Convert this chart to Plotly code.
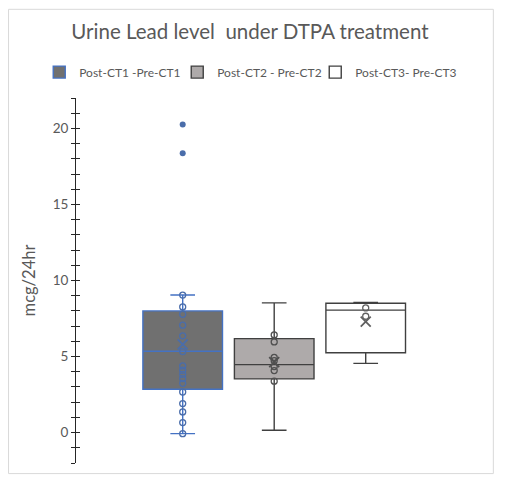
import plotly.graph_objects as go

groups = ["Post-CT1 -Pre-CT1", "Post-CT2 - Pre-CT2", "Post-CT3- Pre-CT3"]

# box statistics (mcg/24hr)
q1 = [2.85, 3.53, 5.25]
median = [5.35, 4.47, 8.05]
q3 = [8.0, 6.18, 8.5]
lower = [-0.07, 0.15, 4.55]
upper = [9.05, 8.53, 8.55]
means = [5.8, 4.64, 7.3]

points_ct1 = [9.04, 8.26, 7.78, 7.06, 6.36, 5.33, 4.38, 4.10, 3.83, 3.55,
              3.24, 2.67, 1.91, 1.36, 0.66, -0.07]
outliers_ct1 = [20.26, 18.37]
points_ct2 = [6.42, 5.96, 4.95, 4.73, 4.34, 4.08, 3.38]
points_ct3 = [8.2, 7.65]

fills = ["#707070", "#AEAAAA", "#FFFFFF"]
edges = ["#4472C4", "#404040", "#404040"]
dots = ["#4A6DAA", "#505050", "#606060"]
font = "Lato"
grey = "#595959"

fig = go.Figure()

for i, g in enumerate(groups):
    fig.add_trace(go.Box(
        x=[g], q1=[q1[i]], median=[median[i]], q3=[q3[i]],
        lowerfence=[lower[i]], upperfence=[upper[i]],
        name=g, width=0.87, whiskerwidth=0.31,
        fillcolor=fills[i], line=dict(color=edges[i], width=1.4),
        boxpoints=False, hoverinfo="skip",
        legendwidth=93 if i < 2 else 115,
    ))

inner = [points_ct1, points_ct2, points_ct3]
for i, g in enumerate(groups):
    fig.add_trace(go.Scatter(
        x=[g] * len(inner[i]), y=inner[i], mode="markers", showlegend=False,
        marker=dict(symbol="circle-open", size=6, color=dots[i],
                    line=dict(width=1.3)),
    ))
    fig.add_trace(go.Scatter(
        x=[g], y=[means[i]], mode="markers", showlegend=False,
        marker=dict(symbol="x-thin-open", size=10, color=dots[i],
                    line=dict(width=1.8, color=dots[i])),
    ))

fig.add_trace(go.Scatter(
    x=[groups[0]] * len(outliers_ct1), y=outliers_ct1, mode="markers",
    showlegend=False, marker=dict(symbol="circle", size=6, color=dots[0]),
))

# invisible trace so the inner tick axis is drawn (ticks cross the axis line)
fig.add_trace(go.Scatter(x=[groups[0]], y=[0], yaxis="y2", mode="markers",
                         marker=dict(opacity=0), showlegend=False,
                         hoverinfo="skip"))

fig.add_shape(type="rect", xref="paper", yref="paper",
              x0=-0.167, x1=1.033, y0=-0.029, y1=1.243,
              line=dict(color="#D9D9D9", width=1), layer="below")

# page body adds an 8px offset, so the figure is 8px smaller than the window
fig.update_layout(
    width=503, height=476,
    margin=dict(l=68, r=31, t=90, b=21, autoexpand=False),
    paper_bgcolor="white", plot_bgcolor="white",
    font=dict(family=font, color=grey, size=12),
    title=dict(text="Urine Lead level  under DTPA treatment",
               x=0.481, xanchor="center", y=0.95, yanchor="middle",
               font=dict(size=20.5, color=grey)),
    legend=dict(orientation="h", x=-0.091, xanchor="left", y=1.071,
                yanchor="middle", font=dict(size=12, color=grey),
                itemwidth=30, tracegroupgap=0, entrywidthmode="pixels"),
    xaxis=dict(range=[-1.166, 3.249], showline=False, showticklabels=False,
               ticks="", showgrid=False, zeroline=False),
    yaxis=dict(range=[-2, 22], tick0=0, dtick=5, ticks="outside", ticklen=4,
               tickcolor="#262626", showline=True, linecolor="#262626",
               linewidth=1, showgrid=False, zeroline=False,
               tickfont=dict(size=13.5, color=grey),
               minor=dict(dtick=1, ticks="outside", ticklen=4,
                          tickcolor="#262626"),
               title=dict(text="mcg/24hr", font=dict(size=16.5, color=grey),
                          standoff=12)),
    yaxis2=dict(range=[-2, 22], overlaying="y", side="left", tick0=0,
                dtick=5, ticks="inside", ticklen=4, tickcolor="#262626",
                showticklabels=False, showline=False, showgrid=False,
                zeroline=False,
                minor=dict(dtick=1, ticks="inside", ticklen=4,
                           tickcolor="#262626")),
    showlegend=True,
)

fig.write_html("out.html")
